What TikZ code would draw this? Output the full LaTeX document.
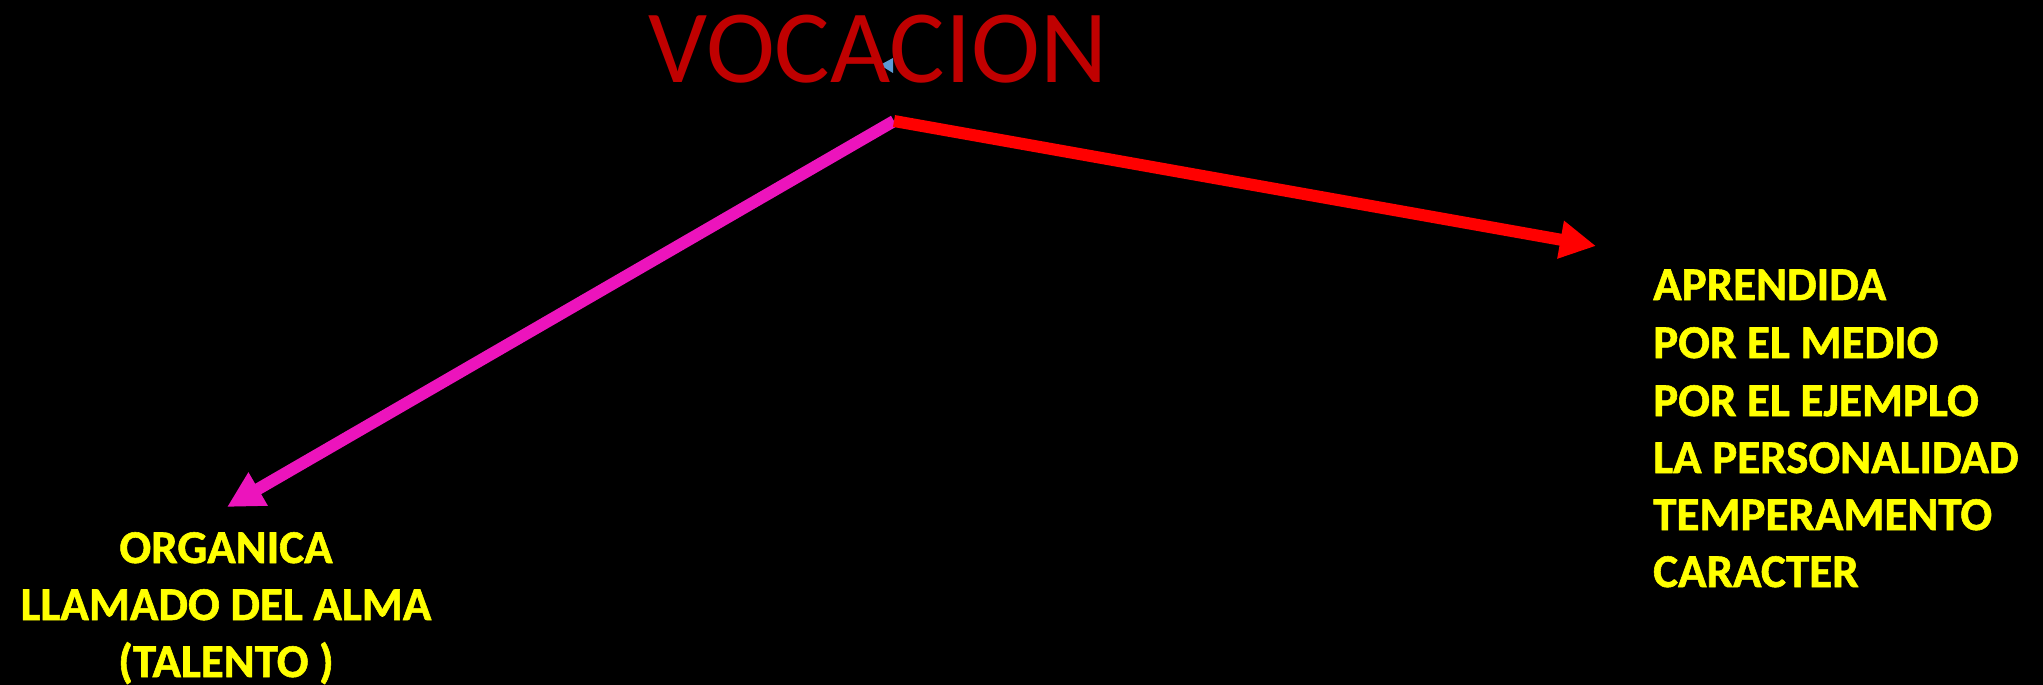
\documentclass[tikz,border=0pt]{standalone}
\usepackage{fontspec}
\setmainfont{Carlito}
\newfontfamily\heavyfont{Carlito Bold}[FakeBold=1.2]
\usetikzlibrary{arrows.meta}
\definecolor{titlered}{RGB}{192,0,0}
\definecolor{magentaA}{RGB}{236,20,188}
\definecolor{yellowT}{RGB}{255,255,0}
\definecolor{smallblue}{RGB}{91,155,213}
\tikzset{
  title/.style={inner sep=0pt, text=titlered, font=\fontsize{104}{112}\selectfont},
  leftline/.style={inner sep=0pt, anchor=base, text=yellowT, font=\fontsize{47}{57}\heavyfont},
  rightline/.style={inner sep=0pt, anchor=base west, text=yellowT, font=\fontsize{47}{57}\heavyfont},
  arrowline/.style={line width=12pt, -{Triangle[length=36pt,width=36pt]}},
}
\begin{document}
\begin{tikzpicture}[x=1pt,y=-1pt]
\fill[black] (0,0) rectangle (2043,685);
\useasboundingbox (0,0) rectangle (2043,685);
% small blue shape behind title
\fill[smallblue] (880,65) -- (893,58) -- (893,73) -- cycle;
\node[title, anchor=base] (vocacion) at (878,82) {VOCACION};
\coordinate (j) at (894,121);
\coordinate (tipL) at (227,507);
\coordinate (tipR) at (1596,246);
\draw[arrowline, magentaA] (j) -- (tipL);
\draw[arrowline, red] (j) -- (tipR);
% left block
\node[leftline] (l1) at (226,563) {ORGANICA};
\node[leftline] (l2) at (226,620) {LLAMADO DEL ALMA};
\node[leftline] (l3) at (226,677) {(TALENTO )};
% right block
\node[rightline] (r1) at (1653,300) {APRENDIDA};
\node[rightline] (r2) at (1653,358) {POR EL MEDIO};
\node[rightline] (r3) at (1653,416) {POR EL EJEMPLO};
\node[rightline] (r4) at (1653,473) {LA PERSONALIDAD};
\node[rightline] (r5) at (1653,530) {TEMPERAMENTO};
\node[rightline] (r6) at (1653,587) {CARACTER};
\end{tikzpicture}
\end{document}
